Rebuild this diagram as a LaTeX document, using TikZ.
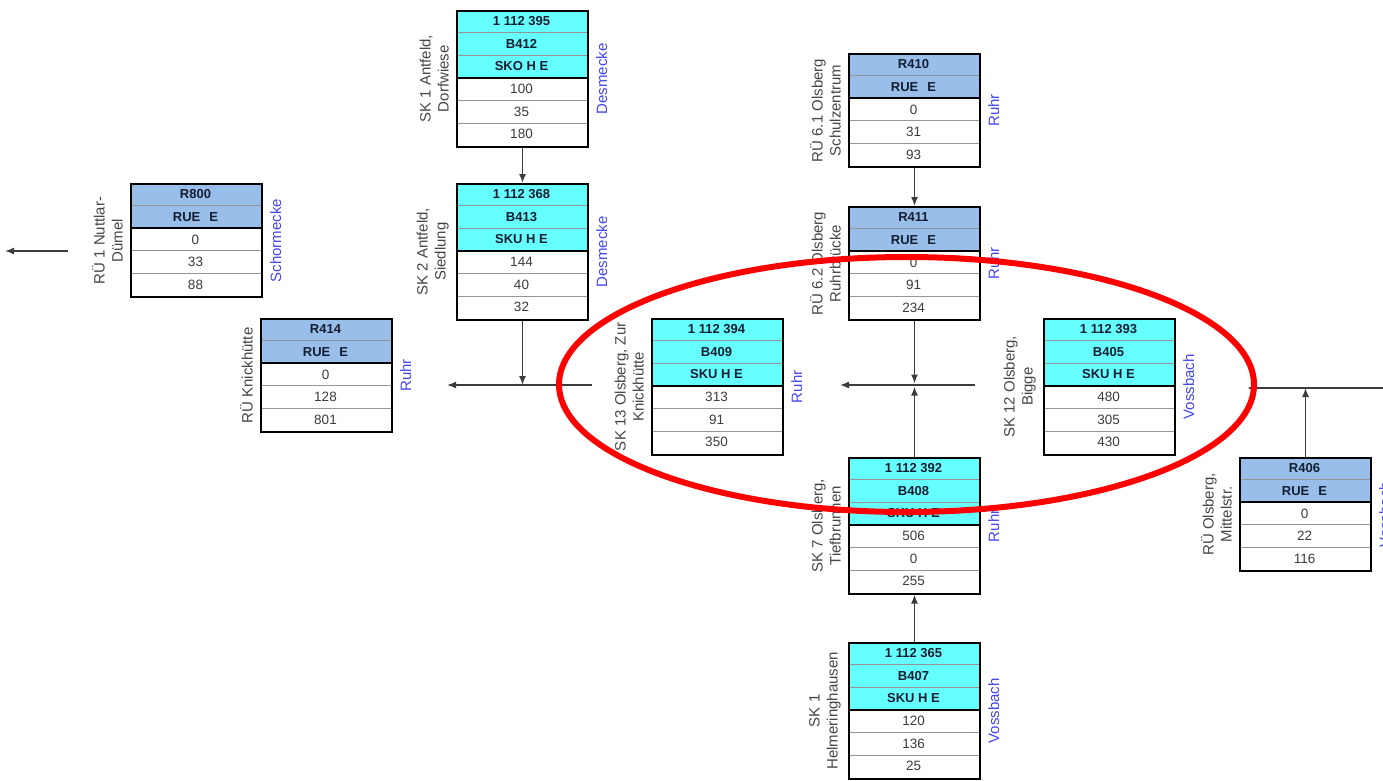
\documentclass[tikz,border=0pt]{standalone}
\usepackage{fontspec}
\setmainfont{Liberation Sans}
\usetikzlibrary{arrows.meta}
\definecolor{hcyan}{RGB}{102,255,255}
\definecolor{hblue}{RGB}{153,190,234}
\definecolor{river}{RGB}{70,70,240}
\definecolor{conn}{RGB}{60,60,60}
\definecolor{sepgray}{RGB}{150,150,150}
\definecolor{ellred}{RGB}{255,0,0}
\definecolor{htext}{RGB}{20,30,50}
\definecolor{dtext}{RGB}{60,60,60}
\definecolor{ltext}{RGB}{70,70,70}
\def\rh{22.6}
\tikzset{
  cell/.style={inner sep=0pt, font=\fontsize{13.5}{14}\selectfont, text=dtext},
  hcell/.style={inner sep=0pt, font=\bfseries\fontsize{13}{14}\selectfont, text=htext},
  frame/.style={draw=black, line width=2pt, minimum width=131pt, inner sep=0pt, anchor=north west},
  sidelbl/.style={rotate=90, anchor=south, align=center, font=\fontsize{15}{18}\selectfont, text=ltext, inner sep=1pt},
  riverlbl/.style={rotate=90, anchor=north, font=\fontsize{15}{18}\selectfont, text=river, inner sep=1pt},
  flow/.style={draw=conn, line width=1.4pt, -{Latex[length=9pt,width=7pt]}},
}
\newcommand{\tbl}[8]{%
  \fill[#4] (#2,#3) rectangle ++(131,{#5*\rh});
  \pgfmathtruncatemacro\tblnr{#8-1}
  \foreach \k in {1,...,\tblnr} {\draw[sepgray, line width=0.8pt] (#2,{#3+\k*\rh}) -- ++(131,0);}
  \draw[black, line width=1.6pt] (#2,{#3+#5*\rh}) -- ++(131,0);
  \foreach \t [count=\i from 0] in {#6} {\node[hcell] (#1-h\i) at ({#2+65.5},{#3+(\i+0.5)*\rh}) {\t};}
  \foreach \t [count=\i from 0] in {#7} {\node[cell] (#1-d\i) at ({#2+65.5},{#3+(#5+\i+0.5)*\rh}) {\t};}
  \node[frame, minimum height={#8*\rh}] (#1) at (#2,#3) {};
}
\begin{document}
\begin{tikzpicture}[x=1pt,y=-1pt]
\useasboundingbox[fill=white] (0,0) rectangle (1383,780);

\tbl{R800}{130}{183}{hblue}{2}{R800,RUE\hspace{9pt}E}{0,33,88}{5}
\tbl{B412}{456}{10}{hcyan}{3}{1 112 395,B412,SKO H E}{100,35,180}{6}
\tbl{B413}{456}{183}{hcyan}{3}{1 112 368,B413,SKU H E}{144,40,32}{6}
\tbl{R414}{260}{318}{hblue}{2}{R414,RUE\hspace{9pt}E}{0,128,801}{5}
\tbl{B409}{651}{318}{hcyan}{3}{1 112 394,B409,SKU H E}{313,91,350}{6}
\tbl{R410}{848}{53}{hblue}{2}{R410,RUE\hspace{9pt}E}{0,31,93}{5}
\tbl{R411}{848}{206}{hblue}{2}{R411,RUE\hspace{9pt}E}{0,91,234}{5}
\tbl{B405}{1043}{318}{hcyan}{3}{1 112 393,B405,SKU H E}{480,305,430}{6}
\tbl{B408}{848}{457}{hcyan}{3}{1 112 392,B408,SKU H E}{506,0,255}{6}
\tbl{B407}{848}{642}{hcyan}{3}{1 112 365,B407,SKU H E}{120,136,25}{6}
\tbl{R406}{1239}{457}{hblue}{2}{R406,RUE\hspace{9pt}E}{0,22,116}{5}

% side labels
\node[sidelbl] (R800-l) at ([xshift=-6pt]R800.west) {RÜ 1 Nuttlar-\\Dümel};
\node[sidelbl] (B412-l) at ([xshift=-6pt]B412.west) {SK 1 Antfeld,\\Dorfwiese};
\node[sidelbl] (B413-l) at ([xshift=-6pt]B413.west) {SK 2 Antfeld,\\Siedlung};
\node[sidelbl] (R414-l) at ([xshift=-6pt]R414.west) {RÜ Knickhütte};
\node[sidelbl] (B409-l) at ([xshift=-6pt]B409.west) {SK 13 Olsberg, Zur\\Knickhütte};
\node[sidelbl] (R410-l) at ([xshift=-6pt]R410.west) {RÜ 6.1 Olsberg\\Schulzentrum};
\node[sidelbl] (R411-l) at ([xshift=-6pt]R411.west) {RÜ 6.2 Olsberg\\Ruhrbrücke};
\node[sidelbl] (B405-l) at ([xshift=-6pt]B405.west) {SK 12 Olsberg,\\Bigge};
\node[sidelbl] (B408-l) at ([xshift=-6pt]B408.west) {SK 7 Olsberg,\\Tiefbrunnen};
\node[sidelbl] (B407-l) at ([xshift=-6pt]B407.west) {SK 1\\Helmeringhausen};
\node[sidelbl] (R406-l) at ([xshift=-6pt]R406.west) {RÜ Olsberg,\\Mittelstr.};

% river labels
\node[riverlbl] (R800-r) at ([xshift=6pt]R800.east) {Schormecke};
\node[riverlbl] (B412-r) at ([xshift=6pt]B412.east) {Desmecke};
\node[riverlbl] (B413-r) at ([xshift=6pt]B413.east) {Desmecke};
\node[riverlbl] (R414-r) at ([xshift=6pt]R414.east) {Ruhr};
\node[riverlbl] (B409-r) at ([xshift=6pt]B409.east) {Ruhr};
\node[riverlbl] (R410-r) at ([xshift=6pt]R410.east) {Ruhr};
\node[riverlbl] (R411-r) at ([xshift=6pt]R411.east) {Ruhr};
\node[riverlbl] (B405-r) at ([xshift=6pt]B405.east) {Vossbach};
\node[riverlbl] (B408-r) at ([xshift=6pt]B408.east) {Ruhr};
\node[riverlbl] (B407-r) at ([xshift=6pt]B407.east) {Vossbach};
\node[riverlbl] (R406-r) at ([xshift=6pt]R406.east) {Vossbach};

% connectors
\coordinate (h1) at (0,385);
\coordinate (h2) at (0,388);
\coordinate (la1) at (68,251);
\coordinate (la2) at (5,251);
\draw[flow] (la1) -- (la2);
\draw[flow] (B412.south) -- (B413.north);
\coordinate (j1) at (B413.south |- h1);
\draw[flow] (B413.south) -- (j1);
\coordinate (m1s) at (592,385);
\coordinate (m1e) at (447,385);
\draw[flow] (m1s) -- (m1e);
\coordinate (m2s) at (975,385);
\coordinate (m2e) at (840,385);
\draw[flow] (m2s) -- (m2e);
\draw[flow] (R410.south) -- (R411.north);
\coordinate (j2) at (R411.south |- h1);
\draw[flow, shorten >=1.5pt] (R411.south) -- (j2);
\draw[flow, shorten >=1.5pt] (B408.north) -- (j2);
\draw[flow] (B407.north) -- (B408.south);
\coordinate (r1s) at (1383,388);
\coordinate (r1e) at (1247,388);
\draw[flow] (r1s) -- (r1e);
\coordinate (j3) at (R406.north |- h2);
\draw[flow] (R406.north) -- (j3);

% highlight
\draw[ellred, line width=6pt] (906.5,384.5) ellipse [x radius=347.5, y radius=127.5];
\end{tikzpicture}
\end{document}
